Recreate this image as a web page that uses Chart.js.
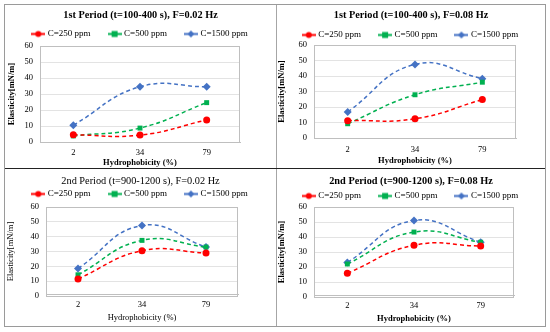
<!DOCTYPE html>
<html>
<head>
<meta charset="utf-8">
<script src="https://cdn.jsdelivr.net/npm/chart.js@4"></script>
<style>
  html, body { margin: 0; padding: 0; background: #fff; }
  #wrap { position: relative; width: 550px; height: 332px; }
  .panel { position: absolute; }
  .frame { position: absolute; left: 4px; top: 4px; width: 540px; height: 321px; border: 1px solid #9a9a9a; }
  .vline { position: absolute; left: 276px; top: 5px; width: 1px; height: 321px; background: #a6a6a6; }
  .hline { position: absolute; left: 5px; top: 168px; width: 540px; height: 1px; background: #222; }
</style>
</head>
<body>
<div id="wrap">
  <div class="panel" style="left:5px;top:5px;width:271px;height:163px"><canvas id="c1"></canvas></div>
  <div class="panel" style="left:277px;top:5px;width:268px;height:163px"><canvas id="c2"></canvas></div>
  <div class="panel" style="left:5px;top:169px;width:271px;height:156px"><canvas id="c3"></canvas></div>
  <div class="panel" style="left:277px;top:169px;width:268px;height:156px"><canvas id="c4"></canvas></div>
  <div class="frame"></div>
  <div class="vline"></div>
  <div class="hline"></div>
</div>
<script>
// hydrophobicity categories
var categories = ['2', '34', '79'];
var seriesNames = ['C=250 ppm', 'C=500 ppm', 'C=1500 ppm'];

// 1st period, F=0.02 Hz
var p1_c250 = [4.5, 4.3, 13.8];
var p1_c500 = [3.8, 8.7, 24.6];
var p1_c1500 = [10.5, 34.5, 34.5];
// 1st period, F=0.08 Hz
var p2_c250 = [11.2, 12.4, 24.8];
var p2_c500 = [9.2, 27.9, 36.0];
var p2_c1500 = [16.8, 47.5, 38.3];
// 2nd period, F=0.02 Hz
var p3_c250 = [11.5, 30.5, 29.0];
var p3_c500 = [14.3, 37.5, 33.0];
var p3_c1500 = [18.5, 47.5, 33.0];
// 2nd period, F=0.08 Hz
var p4_c250 = [15.8, 34.5, 34.0];
var p4_c500 = [22.0, 43.3, 36.5];
var p4_c1500 = [23.0, 51.0, 36.5];

var yTicks = [0, 10, 20, 30, 40, 50, 60];

var colors = ['#ff0000', '#00b050', '#4472c4'];
var markers = ['circle', 'rect', 'rectRot'];
var radii = [3.5, 3.5, 4];

var TITLE_SIZE = 10.3, LEGEND_SIZE = 9, TICK_SIZE = 8.5, AXIS_SIZE = 8.5;
var LEGEND_PAD = 19;

// little line+marker pictures for the legend
function legendIcon(i) {
  var c = document.createElement('canvas');
  c.width = 14; c.height = 9;
  var g = c.getContext('2d');
  g.strokeStyle = colors[i];
  g.fillStyle = colors[i];
  g.lineWidth = 2;
  g.beginPath(); g.moveTo(0, 4.5); g.lineTo(14, 4.5); g.stroke();
  g.beginPath();
  if (i == 0) g.arc(7, 4.5, 3, 0, Math.PI * 2);
  else if (i == 1) g.rect(4, 1.5, 6, 6);
  else { g.moveTo(7, 1); g.lineTo(10.5, 4.5); g.lineTo(7, 8); g.lineTo(3.5, 4.5); g.closePath(); }
  g.fill();
  return c;
}
var icons = [legendIcon(0), legendIcon(1), legendIcon(2)];

function makeChart(id, title, bold, values, box) {
  var serif = 'Liberation Serif';
  var weight = bold ? 'bold' : 'normal';
  var legendH = LEGEND_SIZE + LEGEND_PAD + 10;
  var titleH = TITLE_SIZE;
  var datasets = values.map(function (v, i) {
    return {
      label: seriesNames[i],
      data: v,
      borderColor: colors[i],
      backgroundColor: colors[i],
      borderWidth: 1.5,
      borderDash: [4, 3],
      tension: 0.45,
      pointStyle: markers[i],
      pointRadius: radii[i],
      pointBorderWidth: 0
    };
  });
  return new Chart(document.getElementById(id).getContext('2d'), {
    type: 'line',
    data: { labels: categories, datasets: datasets },
    options: {
      responsive: true,
      maintainAspectRatio: false,
      animation: false,
      layout: { padding: 0 },
      plugins: {
        tooltip: { enabled: false },
        title: {
          display: true, text: title, color: '#000',
          font: { family: serif, size: TITLE_SIZE, weight: weight, lineHeight: 1 },
          padding: { top: 0, bottom: box.top - titleH - legendH }
        },
        legend: {
          labels: {
            usePointStyle: true, pointStyleWidth: 10, boxHeight: 9,
            padding: LEGEND_PAD, color: '#000',
            font: { family: serif, size: LEGEND_SIZE },
            generateLabels: function (chart) {
              return Chart.defaults.plugins.legend.labels.generateLabels(chart).map(function (l, i) {
                l.pointStyle = icons[i];
                return l;
              });
            }
          }
        }
      },
      scales: {
        x: {
          offset: true,
          grid: { display: false, drawTicks: false },
          border: { color: '#bfbfbf' },
          ticks: { color: '#000', padding: box.tickPad, font: { family: serif, size: TICK_SIZE } },
          title: { display: true, text: 'Hydrophobicity (%)', color: '#000',
                   padding: { top: 0, bottom: box.xtPad },
                   font: { family: serif, size: AXIS_SIZE, weight: weight } },
          afterFit: function (s) { s.height = box.xh; }
        },
        y: {
          min: 0, max: 60,
          afterBuildTicks: function (s) { s.ticks = yTicks.map(function (v) { return { value: v }; }); },
          grid: { color: '#e3e3e3', drawTicks: false },
          border: { color: '#bfbfbf' },
          ticks: { color: '#000', padding: 7, autoSkip: false, font: { family: serif, size: TICK_SIZE } },
          title: { display: true, text: 'Elasticity[mN/m]', color: '#000',
                   padding: { top: box.ytPad, bottom: 0 },
                   font: { family: serif, size: AXIS_SIZE, weight: weight } },
          afterFit: function (s) { s.width = box.left; }
        },
        // empty axis that only keeps the right margin of the plot
        yr: {
          position: 'right', display: true,
          grid: { display: false }, border: { display: false }, ticks: { display: false },
          afterFit: function (s) { s.width = box.right; }
        }
      }
    },
    plugins: [{
      id: 'placeHeader',
      afterLayout: function (chart) {
        chart.titleBlock.top = box.titleY - TITLE_SIZE / 2;
        chart.legend.top = box.legendY - LEGEND_PAD - LEGEND_SIZE / 2;
      }
    }, {
      id: 'plotBox',
      afterDraw: function (chart) {
        var a = chart.chartArea, g = chart.ctx;
        g.save(); g.strokeStyle = '#bfbfbf'; g.lineWidth = 1;
        g.strokeRect(a.left + 0.5, a.top + 0.5, a.right - a.left - 1, a.bottom - a.top);
        g.restore();
      }
    }]
  });
}

makeChart('c1', '1st Period (t=100-400 s), F=0.02 Hz', true, [p1_c250, p1_c500, p1_c1500],
  { left: 35, right: 36, top: 41, xh: 26, titleY: 10, legendY: 29, tickPad: 6, xtPad: 0, ytPad: 2 });
makeChart('c2', '1st Period (t=100-400 s), F=0.08 Hz', true, [p2_c250, p2_c500, p2_c1500],
  { left: 37, right: 29, top: 40, xh: 30, titleY: 10, legendY: 30, tickPad: 7, xtPad: 2, ytPad: 0 });
makeChart('c3', '2nd Period (t=900-1200 s), F=0.02 Hz', false, [p3_c250, p3_c500, p3_c1500],
  { left: 41, right: 38, top: 36, xh: 29, titleY: 12, legendY: 25, tickPad: 6, xtPad: 0, ytPad: 1 });
makeChart('c4', '2nd Period (t=900-1200 s), F=0.08 Hz', true, [p4_c250, p4_c500, p4_c1500],
  { left: 37, right: 31, top: 36, xh: 28, titleY: 12, legendY: 27, tickPad: 6, xtPad: -1, ytPad: 0 });
</script>
</body>
</html>
